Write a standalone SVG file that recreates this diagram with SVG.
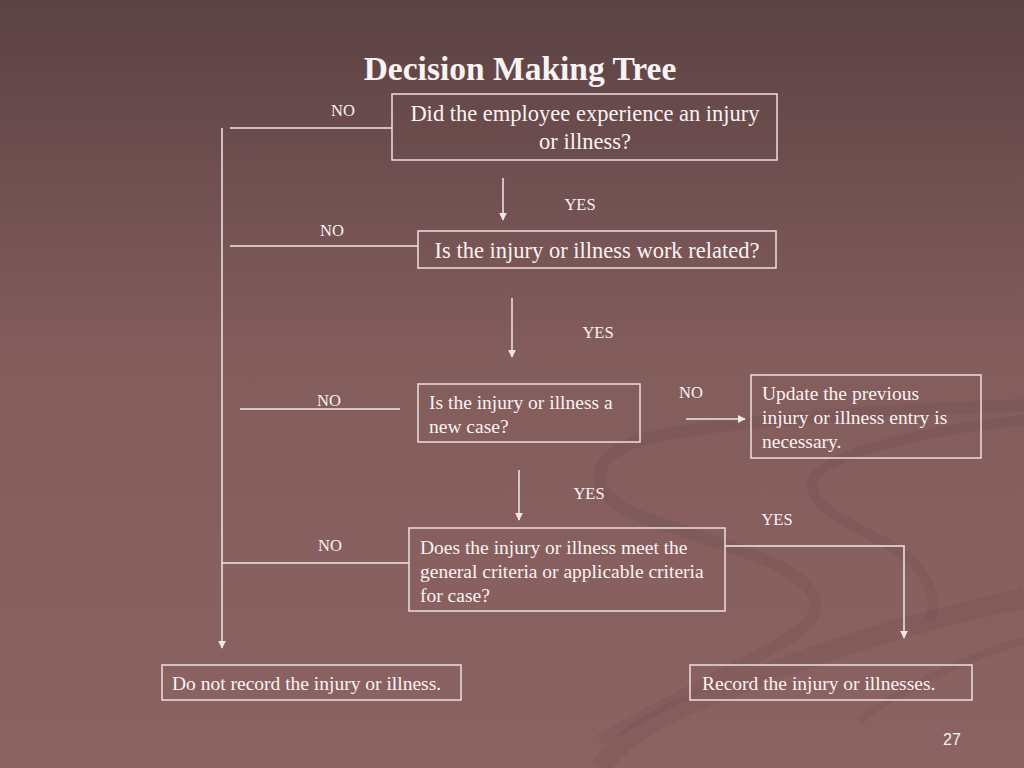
<svg xmlns="http://www.w3.org/2000/svg" width="1024" height="768" viewBox="0 0 1024 768">
<defs>
<linearGradient id="bg" x1="0" y1="0" x2="0" y2="1">
<stop offset="0" stop-color="#5b4244"/>
<stop offset="0.45" stop-color="#835c5c"/>
<stop offset="1" stop-color="#8b6362"/>
</linearGradient>
<marker id="ah" viewBox="0 0 10 10" refX="9" refY="5" markerWidth="8" markerHeight="8" markerUnits="userSpaceOnUse" orient="auto">
<path d="M0,0 L10,5 L0,10 Z" fill="#f4e6e6"/>
</marker>
<style>
.box{fill:none;stroke:#efdede;stroke-width:1.5}
.ln{fill:none;stroke:#f4e6e6;stroke-width:1.5}
.t{font-family:"Liberation Serif","Times New Roman",serif;fill:#fbf3f3}
.lbl{font-family:"Liberation Serif","Times New Roman",serif;fill:#fbf3f3;font-size:16.5px}
.sw{fill:none;stroke:#5e3f3f;stroke-linecap:butt;opacity:0.13}
</style>
</defs>
<rect width="1024" height="768" fill="url(#bg)"/>
<g id="swirls">
<path class="sw" stroke-width="12" d="M1024,405 C900,410 720,420 640,440 C580,460 590,500 650,520 C740,550 820,570 815,610 C810,640 720,670 600,740"/>
<path class="sw" stroke-width="10" d="M1024,420 C930,430 840,450 815,475 C800,500 840,520 880,540 C920,560 940,590 930,620"/>
<path class="sw" stroke-width="20" d="M1024,598 C920,620 820,650 700,700 C650,720 620,740 600,768"/>
<path class="sw" stroke-width="8" d="M1024,640 C960,660 900,690 860,720"/>
</g>
<text class="t" x="520" y="80" text-anchor="middle" font-size="33.5" font-weight="bold">Decision Making Tree</text>
<g id="connectors">
<line class="ln" x1="392" y1="128" x2="230" y2="128"/>
<line class="ln" x1="222" y1="128" x2="222" y2="648" marker-end="url(#ah)"/>
<line class="ln" x1="503" y1="178" x2="503" y2="220" marker-end="url(#ah)"/>
<line class="ln" x1="418" y1="246" x2="230" y2="246"/>
<line class="ln" x1="512" y1="298" x2="512" y2="357" marker-end="url(#ah)"/>
<line class="ln" x1="240" y1="409" x2="400" y2="409"/>
<line class="ln" x1="686" y1="419" x2="745" y2="419" marker-end="url(#ah)"/>
<line class="ln" x1="519" y1="470" x2="519" y2="520" marker-end="url(#ah)"/>
<line class="ln" x1="409" y1="563" x2="222" y2="563"/>
<polyline class="ln" points="725,546 904,546 904,638" marker-end="url(#ah)"/>
<text class="lbl" x="343" y="116" text-anchor="middle">NO</text>
<text class="lbl" x="580" y="210" text-anchor="middle">YES</text>
<text class="lbl" x="332" y="236" text-anchor="middle">NO</text>
<text class="lbl" x="598" y="338" text-anchor="middle">YES</text>
<text class="lbl" x="329" y="406" text-anchor="middle">NO</text>
<text class="lbl" x="691" y="398" text-anchor="middle">NO</text>
<text class="lbl" x="589" y="499" text-anchor="middle">YES</text>
<text class="lbl" x="777" y="525" text-anchor="middle">YES</text>
<text class="lbl" x="330" y="551" text-anchor="middle">NO</text>
</g>
<g id="n1">
<rect class="box" x="392" y="94" width="385" height="66"/>
<text class="t" x="585" y="121" text-anchor="middle" font-size="22.5">Did the employee experience an injury</text>
<text class="t" x="585" y="149" text-anchor="middle" font-size="22.5">or illness?</text>
</g>
<g id="n2">
<rect class="box" x="418" y="231" width="358" height="37"/>
<text class="t" x="597" y="258" text-anchor="middle" font-size="22.5">Is the injury or illness work related?</text>
</g>
<g id="n3">
<rect class="box" x="418" y="384" width="222" height="58"/>
<text class="t" x="429" y="409" font-size="19.5">Is the injury or illness a</text>
<text class="t" x="429" y="433" font-size="19.5">new case?</text>
</g>
<g id="n4">
<rect class="box" x="751" y="375" width="230" height="83"/>
<text class="t" x="762" y="400" font-size="19.5">Update the previous</text>
<text class="t" x="762" y="424" font-size="19.5">injury or illness entry is</text>
<text class="t" x="762" y="448" font-size="19.5">necessary.</text>
</g>
<g id="n5">
<rect class="box" x="409" y="528" width="316" height="83"/>
<text class="t" x="420" y="554" font-size="19.5">Does the injury or illness meet the</text>
<text class="t" x="420" y="578" font-size="19.5">general criteria or applicable criteria</text>
<text class="t" x="420" y="602" font-size="19.5">for case?</text>
</g>
<g id="n6">
<rect class="box" x="162" y="665" width="299" height="35"/>
<text class="t" x="172" y="690" font-size="19.5">Do not record the injury or illness.</text>
</g>
<g id="n7">
<rect class="box" x="690" y="665" width="282" height="35"/>
<text class="t" x="702" y="690" font-size="19.5">Record the injury or illnesses.</text>
</g>
<text x="952" y="745" text-anchor="middle" font-family="Liberation Sans, Arial, sans-serif" font-size="16" fill="#fbf3f3">27</text>
</svg>
